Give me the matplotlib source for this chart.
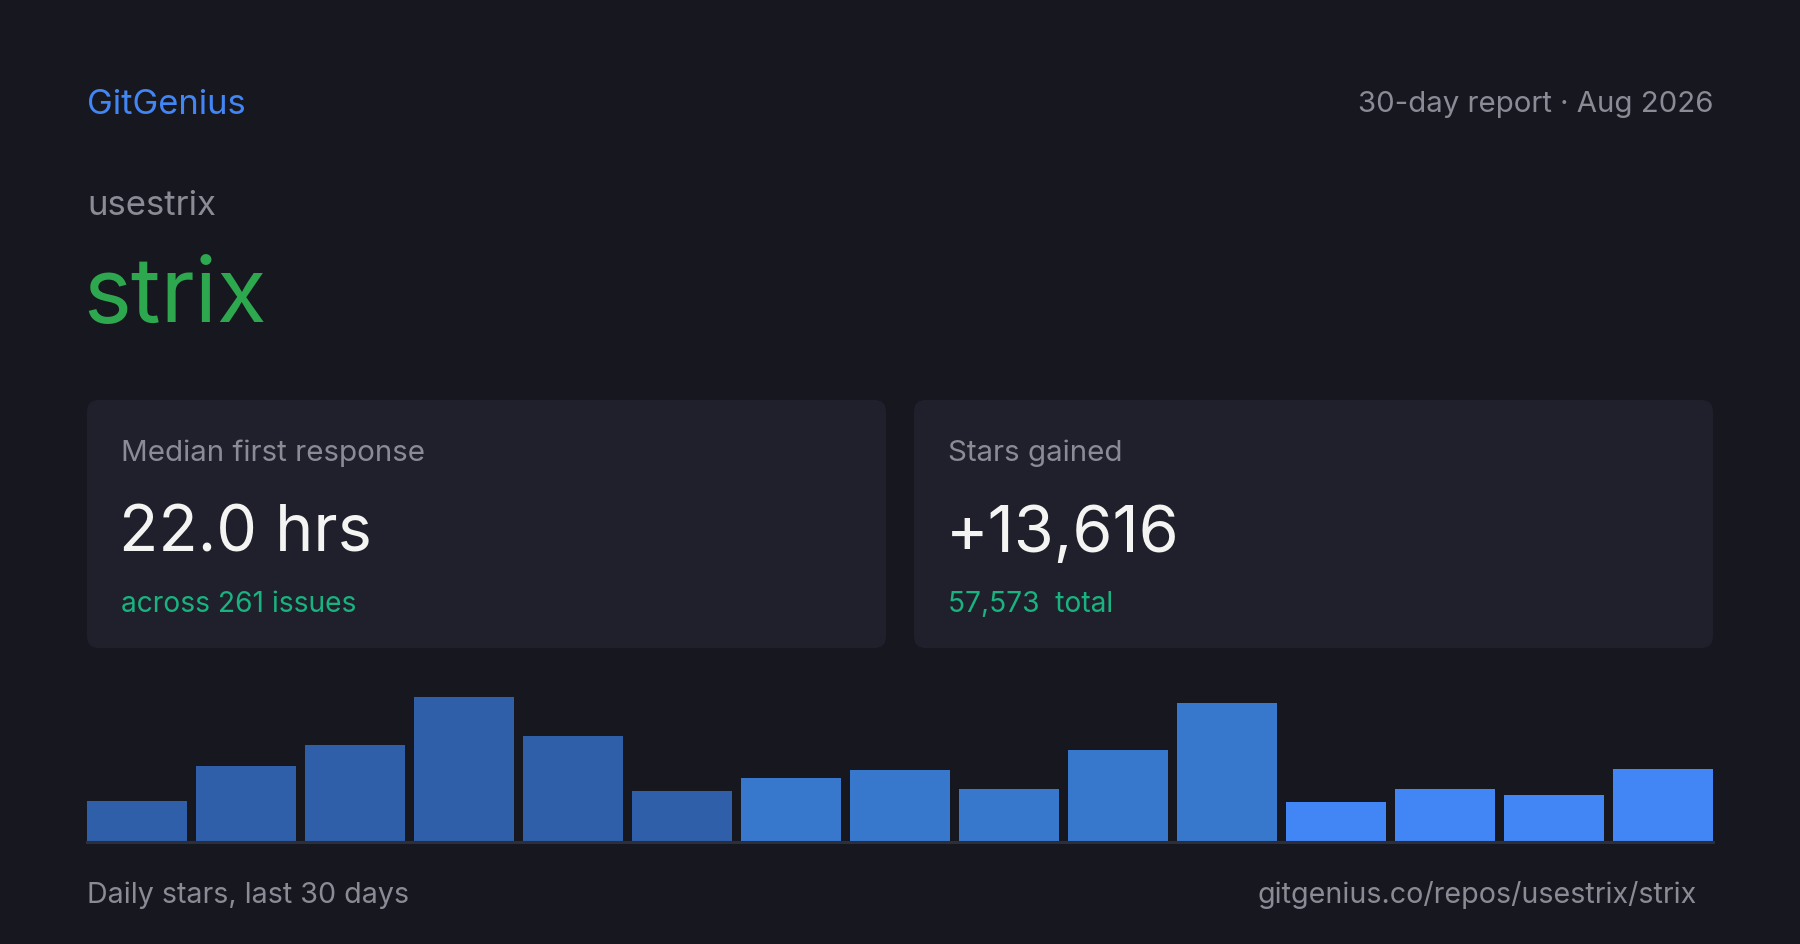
import matplotlib
matplotlib.use("Agg")
import matplotlib.pyplot as plt
from matplotlib.patches import FancyBboxPatch

plt.rcParams['font.family'] = ['Inter', 'DejaVu Sans']

# data
brand = "GitGenius"
report_label = "30-day report · Aug 2026"
owner = "usestrix"
repo = "strix"
card_titles = ["Median first response", "Stars gained"]
card_values = ["22.0 hrs", "+13,616"]
card_notes = ["across 261 issues", "57,573  total"]
daily_stars = [486, 901, 1150, 1718, 1256, 604, 758, 853, 628, 1090, 1647, 474, 628, 557, 865]
bar_colors = ["#2e5fa8"] * 6 + ["#3778cc"] * 5 + ["#4285f4"] * 4
footer_left = "Daily stars, last 30 days"
footer_right = "gitgenius.co/repos/usestrix/strix"

BG = "#16171f"
CARD = "#1f202b"
GRAY = "#8a8b95"
TEAL = "#19b37f"
GREEN = "#2ea84f"
BLUE = "#4285f4"
WHITE = "#f4f4f2"

W, H = 1800, 945
fig = plt.figure(figsize=(W / 100, H / 100), dpi=100, facecolor=BG)

# background axes in pixel units (y down)
bg = fig.add_axes([0, 0, 1, 1])
bg.set_xlim(0, W)
bg.set_ylim(H, 0)
bg.axis("off")
bg.set_facecolor(BG)

bg.text(87, 114, brand, color=BLUE, fontsize=24.9, va="baseline", ha="left")
bg.text(1713, 112, report_label, color=GRAY, fontsize=21.2, va="baseline", ha="right")
bg.text(87, 215, owner, color=GRAY, fontsize=25, va="baseline", ha="left")
bg.text(83, 322, repo, color=GREEN, fontsize=65.5, va="baseline", ha="left")

# cards
card_x = [87, 914]
card_w = 799
for i in range(2):
    x0 = card_x[i]
    bg.add_patch(FancyBboxPatch((x0, 401), card_w, 248,
                                boxstyle="round,pad=0,rounding_size=12",
                                facecolor=CARD, edgecolor="none"))
    bg.text(x0 + 34, 461, card_titles[i], color=GRAY, fontsize=21.3, va="baseline")
    bg.text(x0 + 32, 552, card_values[i], color=WHITE, fontsize=46.5, va="baseline")
    bg.text(x0 + 34, 612, card_notes[i], color=TEAL, fontsize=20.3, va="baseline")

# footer
bg.text(87, 903, footer_left, color=GRAY, fontsize=20.6, va="baseline", ha="left")
bg.text(1697, 903, footer_right, color=GRAY, fontsize=20.6, va="baseline", ha="right")

# bar chart
ax = fig.add_axes([87 / W, 1 - 843 / H, (1713 - 87) / W, (843 - 698) / H])
ax.set_facecolor("none")
n = len(daily_stars)
ax.bar(range(n), daily_stars, width=0.92, color=bar_colors, linewidth=0)
ax.set_xlim(-0.46, n - 1 + 0.46)
ax.set_ylim(0, max(daily_stars))
ax.axhline(0, color="#2c2e3b", linewidth=2.2, clip_on=False)
ax.axis("off")

fig.savefig("out.png", dpi=100, facecolor=BG)
